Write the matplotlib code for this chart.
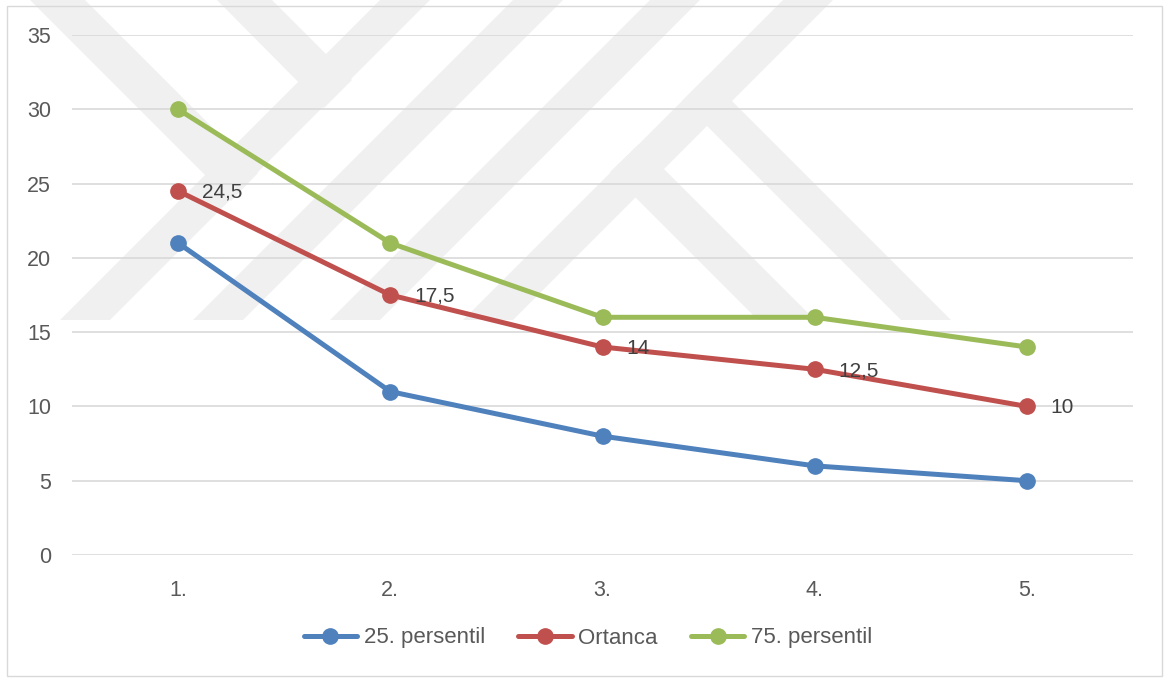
import matplotlib
matplotlib.use("Agg")
import matplotlib.pyplot as plt
from matplotlib.patches import Polygon, Rectangle

# data
categories = ["1.", "2.", "3.", "4.", "5."]
p25 = [21, 11, 8, 6, 5]
median = [24.5, 17.5, 14, 12.5, 10]
p75 = [30, 21, 16, 16, 14]
series_names = ["25. persentil", "Ortanca", "75. persentil"]
median_labels = ["24,5", "17,5", "14", "12,5", "10"]

W, H = 1165, 678
plt.rcParams["font.family"] = ["Liberation Sans", "DejaVu Sans"]

fig = plt.figure(figsize=(W / 100, H / 100), dpi=100)
fig.patch.set_facecolor("white")


def px(x, y):
    return (x / W, 1 - y / H)


# faint background watermark (decorative bands)
wm = "#f0f0f0"
bands = [
    [(30, 0), (85, 0), (258, 173), (231, 201)],
    [(217, 0), (272, 0), (352, 80), (324, 108)],
    [(707, 76), (951, 320), (901, 320), (682, 101)],
    [(639, 144), (815, 320), (758, 320), (610, 172)],
]
for left in (380, 513, 650, 783):
    bands.append([(left, 0), (left + 50, 0), (left + 50 - 320, 320), (left - 320, 320)])
for b in bands:
    fig.add_artist(Polygon([px(*p) for p in b], closed=True, facecolor=wm,
                           edgecolor="none", transform=fig.transFigure, zorder=-2))

# outer chart border
x0, y0 = px(7, 676)
x1, y1 = px(1162, 6)
fig.add_artist(Rectangle((x0, y0), x1 - x0, y1 - y0, fill=False, edgecolor="#d9d9d9",
                         linewidth=1.0, transform=fig.transFigure, zorder=-1))

l, b = px(72, 555)
r, t = px(1133, 35)
ax = fig.add_axes([l, b, r - l, t - b])
ax.set_facecolor("none")

colors = ["#4f81bd", "#c0504d", "#9bbb59"]
x = list(range(len(categories)))
for vals, name, c in zip([p25, median, p75], series_names, colors):
    ax.plot(x, vals, color=c, linewidth=3.6, marker="o", markersize=11,
            label=name, zorder=3, solid_capstyle="round")

for xi, v, lab in zip(x, median, median_labels):
    ax.annotate(lab, (xi, v), xytext=(17, -1), textcoords="offset points",
                ha="left", va="center", fontsize=15, color="#404040", zorder=4)

ax.set_xlim(-0.5, len(categories) - 0.5)
ax.set_ylim(0, 35)
ax.set_yticks(range(0, 36, 5))
ax.set_xticks(x)
ax.set_xticklabels(categories)
ax.tick_params(axis="both", length=0, labelsize=15.5, labelcolor="#595959")
ax.tick_params(axis="y", pad=15)
ax.tick_params(axis="x", pad=18)
ax.yaxis.grid(True, color="#d9d9d9", linewidth=1.2)
ax.set_axisbelow(True)
for s in ax.spines.values():
    s.set_visible(False)

leg = fig.legend(loc="center", bbox_to_anchor=px(588, 638), ncol=3, frameon=False,
                 fontsize=16, handlelength=2.4, handletextpad=0.3, columnspacing=1.5)
for txt in leg.get_texts():
    txt.set_color("#595959")

fig.savefig("out.png", dpi=100)
